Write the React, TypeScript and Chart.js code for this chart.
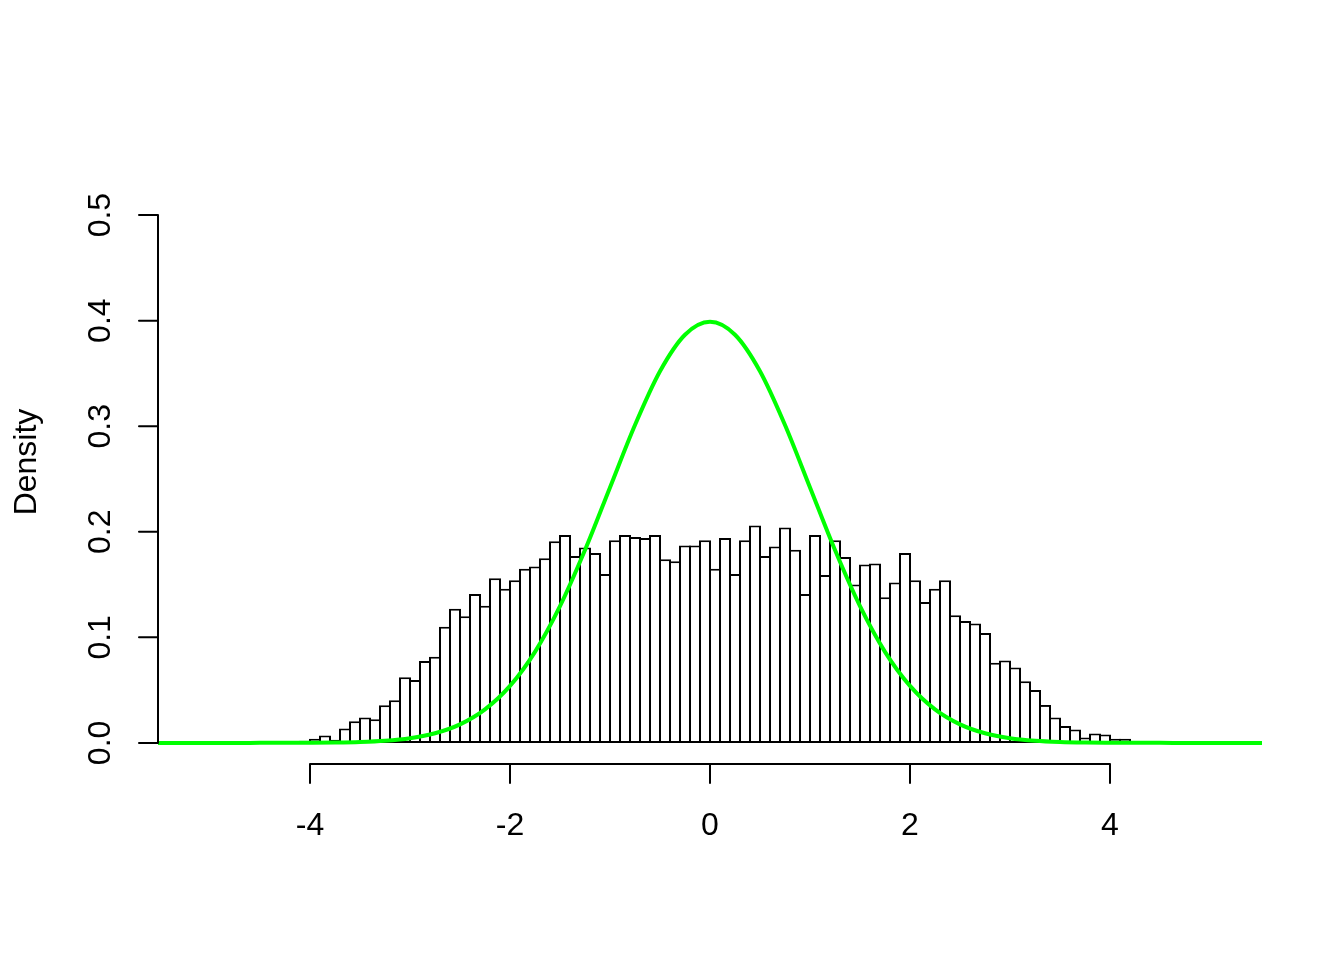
import React, { useEffect, useRef } from "react";
import { Chart, registerables } from "chart.js";

Chart.register(...registerables);

// Histogram bins (centres) and densities
const binCenters = [
  -4.35, -4.25, -4.15, -4.05, -3.95, -3.85, -3.75, -3.65, -3.55, -3.45,
  -3.35, -3.25, -3.15, -3.05, -2.95, -2.85, -2.75, -2.65, -2.55, -2.45,
  -2.35, -2.25, -2.15, -2.05, -1.95, -1.85, -1.75, -1.65, -1.55, -1.45,
  -1.35, -1.25, -1.15, -1.05, -0.95, -0.85, -0.75, -0.65, -0.55, -0.45,
  -0.35, -0.25, -0.15, -0.05, 0.05, 0.15, 0.25, 0.35, 0.45, 0.55,
  0.65, 0.75, 0.85, 0.95, 1.05, 1.15, 1.25, 1.35, 1.45, 1.55,
  1.65, 1.75, 1.85, 1.95, 2.05, 2.15, 2.25, 2.35, 2.45, 2.55,
  2.65, 2.75, 2.85, 2.95, 3.05, 3.15, 3.25, 3.35, 3.45, 3.55,
  3.65, 3.75, 3.85, 3.95, 4.05, 4.15, 4.25,
];

const densities = [
  0.0005, 0.0005, 0.0005, 0.002, 0.004, 0.007, 0.003, 0.0136, 0.0206, 0.024,
  0.0225, 0.0357, 0.0405, 0.0623, 0.0595, 0.0775, 0.0816, 0.11, 0.127, 0.12,
  0.141, 0.13, 0.156, 0.146, 0.154, 0.165, 0.167, 0.175, 0.191, 0.197,
  0.177, 0.185, 0.18, 0.16, 0.192, 0.197, 0.195, 0.194, 0.197, 0.174,
  0.172, 0.187, 0.187, 0.192, 0.165, 0.194, 0.16, 0.192, 0.206, 0.177,
  0.186, 0.204, 0.183, 0.141, 0.197, 0.159, 0.192, 0.176, 0.15, 0.169,
  0.17, 0.138, 0.152, 0.18, 0.154, 0.1335, 0.146, 0.154, 0.121, 0.1155,
  0.113, 0.104, 0.076, 0.078, 0.0715, 0.0585, 0.05, 0.036, 0.024, 0.016,
  0.0126, 0.005, 0.009, 0.008, 0.004, 0.004, 0.001,
];

// Green density curve points
const curveX = [
  -5.52, -5.25, -5.0, -4.75, -4.5, -4.25, -4.0, -3.75, -3.5, -3.25, -3.0,
  -2.75, -2.5, -2.25, -2.0, -1.75, -1.5, -1.25, -1.0, -0.75, -0.5, -0.25,
  0.0, 0.25, 0.5, 0.75, 1.0, 1.25, 1.5, 1.75, 2.0, 2.25, 2.5, 2.75, 3.0,
  3.25, 3.5, 3.75, 4.0, 4.25, 4.5, 4.75, 5.0, 5.25, 5.52,
];
const curveY = [
  0, 0, 0, 0, 0.00002, 0.00005, 0.00013, 0.00035, 0.00087, 0.00203, 0.00443,
  0.00909, 0.01753, 0.03174, 0.05399, 0.08628, 0.12952, 0.18265, 0.24197, 0.30114, 0.35207, 0.38667,
  0.39894, 0.38667, 0.35207, 0.30114, 0.24197, 0.18265, 0.12952, 0.08628, 0.05399, 0.03174, 0.01753, 0.00909, 0.00443,
  0.00203, 0.00087, 0.00035, 0.00013, 0.00005, 0.00002, 0, 0, 0, 0,
];

const xTicks = [-4, -2, 0, 2, 4];
const xTickLabels = ["-4", "-2", "0", "2", "4"];
const yTicks = [0, 0.1, 0.2, 0.3, 0.4, 0.5];
const yTickLabels = ["0.0", "0.1", "0.2", "0.3", "0.4", "0.5"];
const yTitle = "Density";

const FONT = '32px "Liberation Sans", Arial, Helvetica, sans-serif';

const axesPlugin = {
  id: "rAxes",
  afterDraw(chart: any) {
    const ctx = chart.ctx as CanvasRenderingContext2D;
    const xs = chart.scales.x;
    const ys = chart.scales.y;
    const area = chart.chartArea;
    const axisX = area.left;
    const axisY = area.bottom;
    const tick = 19;
    ctx.save();
    ctx.strokeStyle = "#000";
    ctx.fillStyle = "#000";
    ctx.lineWidth = 2;
    ctx.lineCap = "round";
    ctx.font = FONT;

    // y axis
    ctx.beginPath();
    ctx.moveTo(axisX, ys.getPixelForValue(yTicks[0]));
    ctx.lineTo(axisX, ys.getPixelForValue(yTicks[yTicks.length - 1]));
    for (const v of yTicks) {
      const py = ys.getPixelForValue(v);
      ctx.moveTo(axisX, py);
      ctx.lineTo(axisX - tick, py);
    }
    ctx.stroke();
    yTicks.forEach((v, i) => {
      const py = ys.getPixelForValue(v);
      ctx.save();
      ctx.translate(110, py);
      ctx.rotate(-Math.PI / 2);
      ctx.textAlign = "center";
      ctx.textBaseline = "alphabetic";
      ctx.fillText(yTickLabels[i], 0, 0);
      ctx.restore();
    });

    // x axis
    ctx.beginPath();
    ctx.moveTo(xs.getPixelForValue(xTicks[0]), axisY);
    ctx.lineTo(xs.getPixelForValue(xTicks[xTicks.length - 1]), axisY);
    for (const v of xTicks) {
      const px = xs.getPixelForValue(v);
      ctx.moveTo(px, axisY);
      ctx.lineTo(px, axisY + tick);
    }
    ctx.stroke();
    ctx.textAlign = "center";
    ctx.textBaseline = "alphabetic";
    xTicks.forEach((v, i) => {
      const px = xs.getPixelForValue(v);
      ctx.fillText(xTickLabels[i], px, 835);
    });

    // y title
    ctx.save();
    ctx.translate(36, (area.top + area.bottom) / 2 - 17);
    ctx.rotate(-Math.PI / 2);
    ctx.textAlign = "center";
    ctx.textBaseline = "alphabetic";
    ctx.fillText(yTitle, 0, 0);
    ctx.restore();

    ctx.restore();
  },
};

export default function App() {
  const canvasRef = useRef<HTMLCanvasElement | null>(null);

  useEffect(() => {
    if (!canvasRef.current) return;
    const chart = new Chart(canvasRef.current, {
      type: "bar",
      data: {
        datasets: [
          {
            type: "line",
            data: curveX.map((x, i) => ({ x, y: curveY[i] })),
            borderColor: "#00ff00",
            borderWidth: 4,
            pointRadius: 0,
            fill: false,
            cubicInterpolationMode: "monotone",
            order: 0,
          } as any,
          {
            type: "bar",
            data: binCenters.map((x, i) => ({ x, y: densities[i] })),
            backgroundColor: "#ffffff",
            borderColor: "#000000",
            borderWidth: 2,
            borderSkipped: false,
            barPercentage: 1.2,
            categoryPercentage: 1,
            order: 1,
          } as any,
        ],
      },
      options: {
        responsive: false,
        animation: false,
        devicePixelRatio: 1,
        layout: { padding: { left: 158, right: 82, top: 194, bottom: 196 } },
        plugins: {
          legend: { display: false },
          title: { display: false },
          tooltip: { enabled: false },
        },
        scales: {
          x: { type: "linear", min: -5.52, max: 5.52, display: false, offset: false },
          y: { type: "linear", min: -0.02, max: 0.52, display: false },
        },
      },
      plugins: [axesPlugin],
    });
    return () => chart.destroy();
  }, []);

  return (
    <div style={{ position: "absolute", left: 0, top: 0, width: 1344, height: 960, background: "#fff" }}>
      <canvas ref={canvasRef} width={1344} height={960} style={{ width: 1344, height: 960 }} />
    </div>
  );
}
